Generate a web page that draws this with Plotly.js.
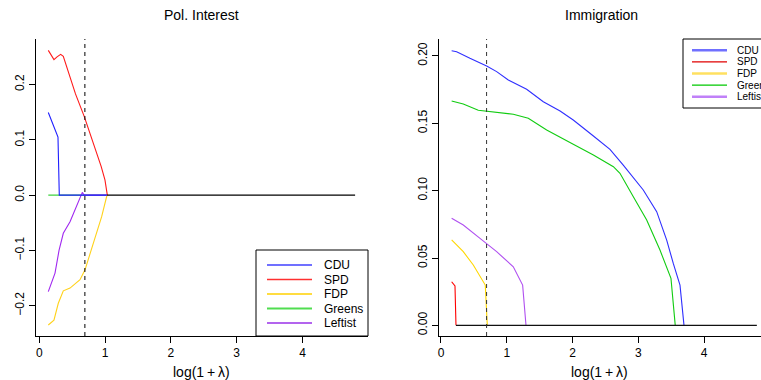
<!DOCTYPE html>
<html>
<head>
<meta charset="utf-8">
<script src="https://cdn.plot.ly/plotly-3.0.1.min.js"></script>
<style>html,body{margin:0;padding:0;background:#fff;}#chart{width:761px;height:380px;}</style>
</head>
<body>
<div id="chart"></div>
<script>
// ---------- data ----------
const parties = ["CDU", "SPD", "FDP", "Greens", "Leftist"];
const panelTitles = ["Pol. Interest", "Immigration"];
const xTitle = "log(1\u2009+\u2009\u03bb)";
const xTickVals = [0, 1, 2, 3, 4];
const polTickVals = [-0.2, -0.1, 0, 0.1, 0.2];
const polTickText = ["\u22120.2", "\u22120.1", "0.0", "0.1", "0.2"];
const immTickVals = [0, 0.05, 0.10, 0.15, 0.20];
const immTickText = ["0.00", "0.05", "0.10", "0.15", "0.20"];
const selectedLambda = 0.693;

// Pol. Interest panel
const polX_CDU = [0.137, 0.284, 0.304, 1.03];
const pol_CDU  = [0.1495, 0.105, 0, 0];
const polX_SPD = [0.137, 0.18, 0.223, 0.27, 0.325, 0.365, 0.42, 0.492, 0.55, 0.684, 0.78, 0.872, 0.94, 0.998, 1.034];
const pol_SPD  = [0.2617, 0.253, 0.245, 0.250, 0.2545, 0.251, 0.232, 0.203, 0.183, 0.142, 0.109, 0.076, 0.052, 0.0277, 0];
const polX_FDP = [0.137, 0.223, 0.289, 0.365, 0.467, 0.619, 0.695, 0.82, 0.948, 1.024, 1.034];
const pol_FDP  = [-0.2348, -0.226, -0.1955, -0.173, -0.168, -0.153, -0.135, -0.087, -0.039, -0.0025, 0];
const polX_Greens = [0.137, 1.03];
const pol_Greens  = [0, 0];
const polX_Leftist = [0.137, 0.239, 0.30, 0.365, 0.467, 0.568, 0.654, 0.68, 1.03];
const pol_Leftist  = [-0.1745, -0.141, -0.10, -0.069, -0.048, -0.0206, 0.005, 0, 0];
const polX_Base = [1.03, 4.8];
const pol_Base  = [0, 0];

// Immigration panel
const immX_CDU = [0.162, 0.238, 0.44, 0.694, 0.846, 1.023, 1.302, 1.555, 1.81, 2.01, 2.316, 2.568, 2.77, 3.074, 3.278, 3.43, 3.53, 3.632, 3.693];
const imm_CDU  = [0.2039, 0.2032, 0.1983, 0.1926, 0.1884, 0.1822, 0.1753, 0.166, 0.1592, 0.1525, 0.1406, 0.1307, 0.119, 0.1005, 0.0844, 0.0633, 0.046, 0.0299, 0];
const immX_SPD = [0.162, 0.213, 0.228];
const imm_SPD  = [0.0324, 0.0292, 0];
const immX_FDP = [0.162, 0.339, 0.491, 0.593, 0.673, 0.704];
const imm_FDP  = [0.0634, 0.0547, 0.0448, 0.0361, 0.0299, 0];
const immX_Greens = [0.162, 0.339, 0.567, 0.846, 1.099, 1.327, 1.606, 2.01, 2.316, 2.62, 2.72, 2.923, 3.126, 3.328, 3.495, 3.56];
const imm_Greens  = [0.1666, 0.1644, 0.1597, 0.1584, 0.1567, 0.1537, 0.145, 0.1344, 0.1265, 0.1178, 0.1129, 0.0955, 0.0782, 0.0559, 0.0349, 0];
const immX_Leftist = [0.162, 0.339, 0.593, 0.846, 1.099, 1.241, 1.292];
const imm_Leftist  = [0.0795, 0.0745, 0.0646, 0.0547, 0.0435, 0.0299, 0];
const immX_Base = [0.228, 4.8];
const imm_Base  = [0, 0];

// ---------- styles ----------
const colLeft  = {CDU: "#1f1fff", SPD: "#ff1a1a", FDP: "#ffd21a", Greens: "#3ed23e", Leftist: "#a028f0"};
const colRight = {CDU: "#2f2fff", SPD: "#ff0000", FDP: "#ffd700", Greens: "#11cc11", Leftist: "#b050f0"};
const FONT = "Liberation Sans, Arial, Helvetica, sans-serif";
const W = 761, H = 380;
const px = v => v / W, py = v => 1 - v / H;

const polData = {CDU: [polX_CDU, pol_CDU], SPD: [polX_SPD, pol_SPD], FDP: [polX_FDP, pol_FDP], Greens: [polX_Greens, pol_Greens], Leftist: [polX_Leftist, pol_Leftist]};
const immData = {CDU: [immX_CDU, imm_CDU], SPD: [immX_SPD, imm_SPD], FDP: [immX_FDP, imm_FDP], Greens: [immX_Greens, imm_Greens], Leftist: [immX_Leftist, imm_Leftist]};

const traces = [];
const order = ["Greens", "Leftist", "FDP", "SPD", "CDU"];
order.forEach(p => {
  traces.push({x: polData[p][0], y: polData[p][1], xaxis: "x", yaxis: "y", mode: "lines",
    line: {color: colLeft[p], width: 1.1}, showlegend: false, hoverinfo: "skip"});
});
traces.push({x: polX_Base, y: pol_Base, xaxis: "x", yaxis: "y", mode: "lines",
  line: {color: "#000", width: 1.3}, showlegend: false, hoverinfo: "skip"});
order.forEach(p => {
  traces.push({x: immData[p][0], y: immData[p][1], xaxis: "x2", yaxis: "y2", mode: "lines",
    line: {color: colRight[p], width: 1.1}, showlegend: false, hoverinfo: "skip"});
});
traces.push({x: immX_Base, y: imm_Base, xaxis: "x2", yaxis: "y2", mode: "lines",
  line: {color: "#111", width: 1.3}, showlegend: false, hoverinfo: "skip"});

const axisCommon = {
  showgrid: false, zeroline: false, showline: true, linecolor: "#000", linewidth: 1,
  ticks: "outside", ticklen: 6, tickwidth: 1, tickcolor: "#000",
  tickfont: {family: FONT, size: 12, color: "#000"}, mirror: false, fixedrange: true
};

const shapes = [
  {type: "line", xref: "x", yref: "y domain", x0: selectedLambda, x1: selectedLambda, y0: 0, y1: 1,
   line: {color: "#000", width: 1, dash: "4px,4px"}},
  {type: "line", xref: "x2", yref: "y2 domain", x0: selectedLambda, x1: selectedLambda, y0: 0, y1: 1,
   line: {color: "#333", width: 1, dash: "4px,4px"}},
  {type: "rect", xref: "paper", yref: "paper", x0: px(256), x1: px(368), y0: py(336), y1: py(250),
   line: {color: "#000", width: 1}, fillcolor: "#fff"},
  {type: "rect", xref: "paper", yref: "paper", x0: px(683), x1: px(775), y0: py(108), y1: py(39),
   line: {color: "#000", width: 1}, fillcolor: "#fff"}
];
const annotations = [];
const leftLegendCol = {CDU: "#4040ff", SPD: "#ff3030", FDP: "#ffd000", Greens: "#50dd50", Leftist: "#9a30e8"};
const leftLegendW = {CDU: 1.3, SPD: 1.3, FDP: 1.3, Greens: 2.2, Leftist: 1.3};
parties.forEach((p, i) => {
  const yy = 265 + i * 14.5;
  shapes.push({type: "line", xref: "paper", yref: "paper", x0: px(267), x1: px(312), y0: py(yy), y1: py(yy),
    line: {color: leftLegendCol[p], width: leftLegendW[p]}});
  annotations.push({xref: "paper", yref: "paper", x: px(322), y: py(yy), xanchor: "left", yanchor: "middle",
    text: p, showarrow: false, font: {family: FONT, size: 12, color: "#000"}});
});
const rightLegendCol = {CDU: "#7070ff", SPD: "#e00000", FDP: "#ffe060", Greens: "#00c800", Leftist: "#c080f8"};
const rightLegendW = {CDU: 2.5, SPD: 1.2, FDP: 2.5, Greens: 1.2, Leftist: 2.5};
parties.forEach((p, i) => {
  const yy = 50.3 + i * 11.6;
  shapes.push({type: "line", xref: "paper", yref: "paper", x0: px(692), x1: px(727), y0: py(yy), y1: py(yy),
    line: {color: rightLegendCol[p], width: rightLegendW[p]}});
  annotations.push({xref: "paper", yref: "paper", x: px(735), y: py(yy), xanchor: "left", yanchor: "middle",
    text: p, showarrow: false, font: {family: FONT, size: 10, color: "#000"}});
});
annotations.push({xref: "paper", yref: "paper", x: px(202), y: py(15.5), xanchor: "center", yanchor: "middle",
  text: panelTitles[0], showarrow: false, font: {family: FONT, size: 14, color: "#000"}});
annotations.push({xref: "paper", yref: "paper", x: px(601), y: py(15.5), xanchor: "center", yanchor: "middle",
  text: panelTitles[1], showarrow: false, font: {family: FONT, size: 14, color: "#000"}});
annotations.push({xref: "paper", yref: "paper", x: px(202), y: py(371.5), xanchor: "center", yanchor: "middle",
  text: xTitle, showarrow: false, font: {family: FONT, size: 14, color: "#000"}});
annotations.push({xref: "paper", yref: "paper", x: px(599), y: py(371.5), xanchor: "center", yanchor: "middle",
  text: xTitle, showarrow: false, font: {family: FONT, size: 14, color: "#000"}});

const layout = {
  width: W, height: H, margin: {l: 0, r: 0, t: 0, b: 0},
  paper_bgcolor: "#fff", plot_bgcolor: "#fff", showlegend: false,
  xaxis: Object.assign({}, axisCommon, {domain: [px(36), px(368)], range: [-0.05, 4.996],
    tickvals: xTickVals, ticktext: xTickVals.map(String), anchor: "y"}),
  yaxis: Object.assign({}, axisCommon, {domain: [py(336), py(39)], range: [-0.2547, 0.2823],
    tickvals: polTickVals, ticktext: polTickText, tickangle: -90, anchor: "x"}),
  xaxis2: Object.assign({}, axisCommon, {domain: [px(439), 1], range: [-0.03, 4.863],
    tickvals: xTickVals, ticktext: xTickVals.map(String), anchor: "y2"}),
  yaxis2: Object.assign({}, axisCommon, {domain: [py(336), py(39)], range: [-0.0079, 0.2126],
    tickvals: immTickVals, ticktext: immTickText, tickangle: -90, anchor: "x2"}),
  shapes: shapes, annotations: annotations
};

Plotly.newPlot("chart", traces, layout, {displayModeBar: false, staticPlot: true});
</script>
</body>
</html>
